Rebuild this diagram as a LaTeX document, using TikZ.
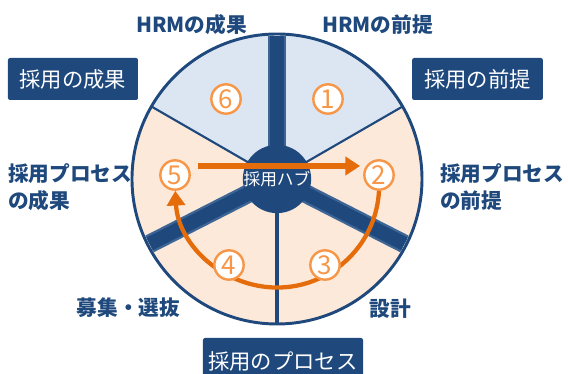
\documentclass[tikz,border=0pt]{standalone}
\usepackage{fontspec}
\setmainfont{Noto Sans CJK JP}
\usetikzlibrary{arrows.meta,calc}

\definecolor{hrnavy}{HTML}{1F497D}
\definecolor{hrsteel}{HTML}{3D6696}
\definecolor{hrsky}{HTML}{DCE6F2}
\definecolor{hrpeach}{HTML}{FDE9D9}
\definecolor{hrorange}{HTML}{E46C0A}
\definecolor{hrring}{HTML}{F79646}

\tikzset{
  lbl/.style={text=hrnavy, inner sep=0pt, font=\bfseries\fontsize{15.5}{20}\selectfont},
  tagbox/.style={fill=hrnavy, text=white, rounded corners=1.5pt, inner sep=0pt,
    minimum height=31.5pt, font=\fontsize{16}{18}\selectfont},
  numc/.style={circle, draw=hrring, line width=1.8pt, fill=white, text=hrring,
    minimum size=22pt, inner sep=0pt, font=\fontsize{19.5}{19.5}\selectfont},
  divider/.style={draw=hrnavy, line width=1.6pt},
  spoke/.style={draw=hrsteel, line width=14pt, postaction={draw=hrnavy, line width=10.5pt}},
  hub/.style={circle, fill=hrnavy, text=white, minimum size=49.5pt, inner sep=0pt,
    font=\fontsize{12.5}{14}\selectfont},
  flow/.style={draw=hrorange, line width=4.2pt, -{Triangle[length=11pt,width=13.5pt]}}
}

\begin{document}
\begin{tikzpicture}[x=0.75pt,y=0.75pt]
\clip (-277,179) rectangle (291,-195);
\coordinate (c) at (0,0);

% wheel
\fill[hrpeach] (c) circle (145);
\fill[hrsky] (c) -- (30:145) arc[start angle=30, end angle=150, radius=145] -- cycle;
\draw[divider] (c) -- (30:145);
\draw[divider] (c) -- (150:145);
\draw[divider, line width=2.4pt] (c) -- (270:145);
\draw[hrnavy, line width=2.2pt] (c) circle (145);
\foreach \a in {90,207,333}{
  \draw[spoke] (c) -- (\a:143);
}
\node[hub] (hub) at (c) {\raisebox{-2pt}{採用ハブ}};

% steps
\node[numc] (n1) at (51,80) {1};
\node[numc] (n6) at (-51,80) {6};
\node[numc] (n2) at (102,4) {2};
\node[numc] (n5) at (-102,4) {5};
\draw[flow] ($(n5.east)+(7,9)$) -- ($(n2.west)+(-3,9)$);
\draw[flow, line width=3.2pt] (n2.south) arc[start angle=-3, end angle=-177, radius=102];
\node[numc] (n3) at (48,-86) {3};
\node[numc] (n4) at (-48,-86) {4};

% labels
\node[lbl] (hrmout) at (-85.5,154) {HRMの成果};
\node[lbl] (hrmpre) at (100.5,154) {HRMの前提};
\node[tagbox, minimum width=97.5pt] (out) at (-204,100) {採用の成果};
\node[tagbox, minimum width=98pt] (pre) at (200.5,100) {採用の前提};
\node[lbl, align=left, anchor=west] (pout) at (-269,-8) {採用プロセス\\の成果};
\node[lbl, align=left, anchor=west] (ppre) at (163,-8) {採用プロセス\\の前提};
\node[lbl] (recr) at (-148.5,-129) {募集・選抜};
\node[lbl] (dsgn) at (113.5,-130) {設計};
\node[tagbox, minimum width=120pt, minimum height=34.5pt] (proc) at (6,-182) {採用のプロセス};

\end{tikzpicture}
\end{document}
